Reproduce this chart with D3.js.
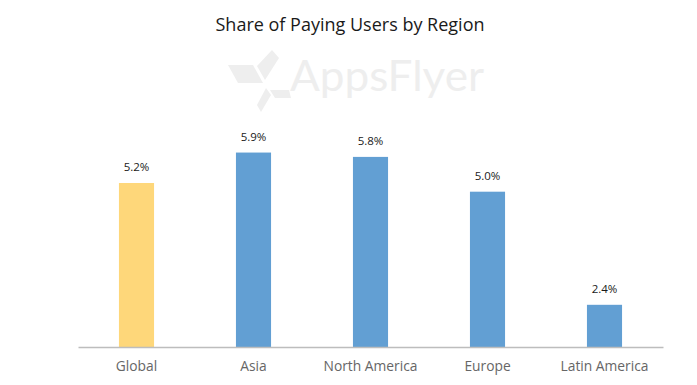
<!DOCTYPE html>
<html>
<head>
<meta charset="utf-8">
<script src="https://cdnjs.cloudflare.com/ajax/libs/d3/7.8.5/d3.min.js"></script>
<style>
	body { margin: 0; background: #fff; }
	svg { display: block; }
	.title { font-family: "Open Sans", sans-serif; font-size: 18px; fill: #1a1a1a; }
	.valueLabel { font-family: "Open Sans", sans-serif; font-size: 11.5px; fill: #1a1a1a; }
	.axis text { font-family: "Open Sans", sans-serif; font-size: 13.8px; fill: #666; }
</style>
</head>
<body>
<script>
// chart data
var regions = ["Global", "Asia", "North America", "Europe", "Latin America"];
var shares = [5.2, 5.9, 5.8, 5.0, 2.4];
var barColors = ["#FED77A", "#629FD3", "#629FD3", "#629FD3", "#629FD3"];

// size of the svg
var w = 697;
var h = 385;
var leftMargin = 78;
var rightMargin = 34;
var baseY = 347;

var svg = d3.select("body")
			.append("svg")
			.attr("width", w)
			.attr("height", h);

// faint watermark logo behind the chart
var mark = svg.append("g").attr("fill", "#eeeeee");
mark.append("path").attr("d", "M228,65 L253,65 L263,83 L238,83 Z");
mark.append("path").attr("d", "M257,66 L272,50 L279,58 L265,80 Z");
mark.append("path").attr("d", "M266,88 L271,95 L261,112 L257,105 Z");
mark.append("path").attr("d", "M270,90 L289,90 L291,98 L275,98 Z");
mark.append("text")
	.attr("x", 290)
	.attr("y", 91)
	.attr("textLength", 194)
	.attr("lengthAdjust", "spacingAndGlyphs")
	.style("font-family", "Lato, sans-serif")
	.style("font-weight", 400)
	.style("font-size", "42px")
	.text("AppsFlyer");

// title
svg.append("text")
	.attr("class", "title")
	.attr("x", 350)
	.attr("y", 31)
	.attr("text-anchor", "middle")
	.text("Share of Paying Users by Region");

// scales
var scaleX = d3.scaleBand()
				.domain(regions)
				.range([leftMargin, w - rightMargin])
				.paddingInner(0.7)
				.paddingOuter(0.35);
var scaleY = d3.scaleLinear()
				.domain([1.43, 6.0])
				.range([baseY, 148.2]);

// bars
svg.selectAll("rect.bar")
	.data(shares)
	.enter()
	.append("rect")
	.attr("class", "bar")
	.attr("x", function(d, i) { return scaleX(regions[i]); })
	.attr("y", function(d) { return scaleY(d); })
	.attr("width", scaleX.bandwidth())
	.attr("height", function(d) { return baseY - scaleY(d); })
	.attr("fill", function(d, i) { return barColors[i]; });

// value labels above bars
svg.selectAll("text.valueLabel")
	.data(shares)
	.enter()
	.append("text")
	.attr("class", "valueLabel")
	.attr("x", function(d, i) { return scaleX(regions[i]) + scaleX.bandwidth() / 2; })
	.attr("y", function(d) { return scaleY(d) - 12; })
	.attr("text-anchor", "middle")
	.text(function(d) { return d.toFixed(1) + "%"; });

// x axis
var x_axis = d3.axisBottom(scaleX).tickSize(0).tickPadding(14);
var axisG = svg.append("g")
	.attr("class", "axis")
	.attr("transform", "translate(0," + baseY + ")")
	.call(x_axis);
axisG.select(".domain")
	.attr("stroke", "#bdbdbd")
	.attr("stroke-width", 1.3);
</script>
</body>
</html>
